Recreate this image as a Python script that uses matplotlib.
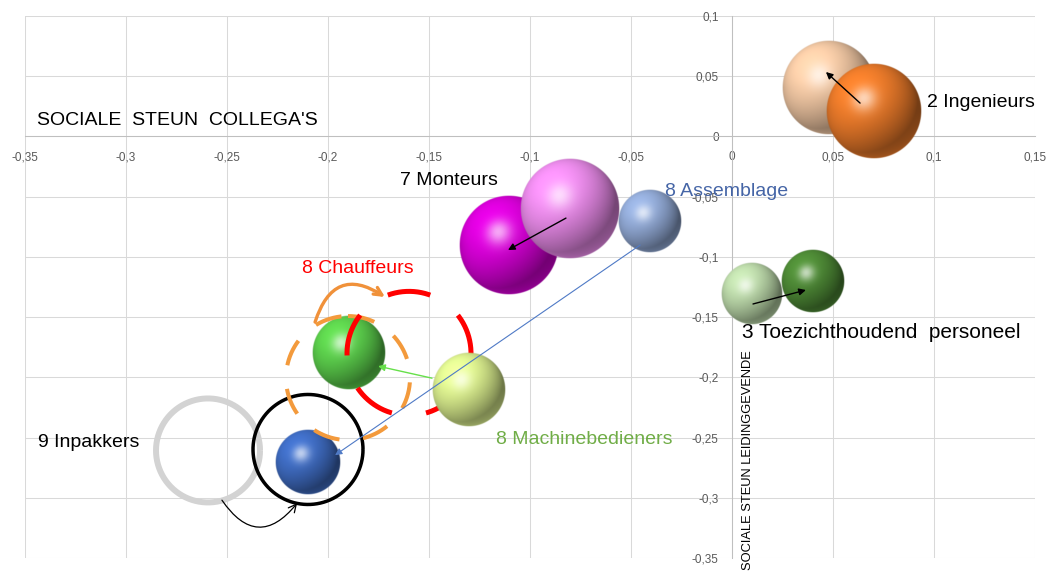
import numpy as np
import matplotlib
matplotlib.use("Agg")
import matplotlib.pyplot as plt
from matplotlib.colors import to_rgb
from matplotlib.transforms import ScaledTranslation

plt.rcParams["font.family"] = ["Liberation Sans", "DejaVu Sans"]
plt.rcParams["lines.scale_dashes"] = False

# bubbles: (job group, previous/current position)
bubble_names = ["2 Ingenieurs (voor)", "2 Ingenieurs", "7 Monteurs", "7 Monteurs (voor)",
                "8 Assemblage", "8 Chauffeurs", "9 Inpakkers",
                "3 Toezichthoudend (na)", "3 Toezichthoudend", "8 Machinebedieners"]
bubble_x = [0.0480, 0.0703, -0.1104, -0.0802, -0.0406, -0.1896, -0.2099, 0.0401, 0.0099, -0.1302]
bubble_y = [0.0402, 0.0211, -0.0902, -0.0603, -0.0702, -0.1799, -0.2704, -0.1200, -0.1308, -0.2106]
bubble_size = [47, 48, 50, 50, 32, 37, 33, 32, 31, 37]
bubble_colors = ["#f2c8a4", "#ea7a2a", "#d800d8", "#ec8cec", "#92aad6",
                 "#5ccf4c", "#3f6cc2", "#4e8a36", "#bcd9aa", "#dcf08f"]

# open rings
ring_x = [-0.2594, -0.2099, -0.1901, -0.1599]
ring_y = [-0.2607, -0.2599, -0.2006, -0.1801]
ring_size = [52, 55, 62, 62]
ring_colors = ["#d3d3d3", "#000000", "#f39a3c", "#ff0000"]
ring_widths = [4.3, 2.5, 2.9, 3.6]
ring_dashes = [None, None, (19.5, 17.1), (31.2, 24.9)]
ring_start = [0, 0, 90, 110]

# arrows: start -> end
arrow_start = [(0.0634, 0.0277), (-0.0822, -0.0678), (0.0104, -0.1391),
               (-0.1485, -0.2007), (-0.0455, -0.0902), (-0.2064, -0.1541), (-0.2525, -0.3020)]
arrow_end = [(0.0465, 0.0535), (-0.1109, -0.0943), (0.0366, -0.1275),
             (-0.1752, -0.1907), (-0.1965, -0.2646), (-0.1718, -0.1333), (-0.2153, -0.3045)]
arrow_colors = ["black", "black", "black", "#66e04a", "#4f7ac6", "#f0913a", "black"]
arrow_rad = [0, 0, 0, 0, 0, -0.65, 0.67]
arrow_widths = [1.0, 1.0, 1.0, 1.0, 0.8, 2.4, 0.9]

label_texts = ["2 Ingenieurs", "7 Monteurs", "8 Assemblage", "8 Chauffeurs",
               "8 Machinebedieners", "3 Toezichthoudend  personeel", "9 Inpakkers"]
label_x = [0.0965, -0.1644, -0.0332, -0.2129, -0.1168, 0.0050, -0.3436]
label_y = [0.0244, -0.0404, -0.0496, -0.1137, -0.2554, -0.1674, -0.2578]
label_colors = ["black", "black", "#4565a6", "#ff0000", "#70ad47", "black", "black"]
label_sizes = [14, 14, 14, 14, 14, 15, 14]

x_ticks = [-0.35, -0.3, -0.25, -0.2, -0.15, -0.1, -0.05, 0, 0.05, 0.1, 0.15]
y_ticks = [-0.35, -0.3, -0.25, -0.2, -0.15, -0.1, -0.05, 0, 0.05, 0.1]


def fmt(v):
    return f"{round(v, 2):g}".replace(".", ",")


def draw_sphere(ax, x, y, r_px, color, sx, sy, z):
    base = np.array(to_rgb(color))
    n = int(r_px * 4)
    u = np.linspace(-1, 1, n)
    uu, vv = np.meshgrid(u, -u)
    rr = np.sqrt(uu ** 2 + vv ** 2)
    nz = np.sqrt(np.clip(1 - rr ** 2, 0, 1))
    light = np.array([-0.40, 0.50, 0.77])
    light = light / np.linalg.norm(light)
    diff = np.clip(uu * light[0] + vv * light[1] + nz * light[2], 0, 1)
    half = light + np.array([0, 0, 1.0])
    half = half / np.linalg.norm(half)
    spec = np.clip(uu * half[0] + vv * half[1] + nz * half[2], 0, 1) ** 30
    # soft bounce light at the bottom
    bounce = np.clip(-vv, 0, 1) * np.clip(1 - nz, 0, 1) * 0.25
    shade = 0.50 + 0.60 * diff + bounce
    rgb = base[None, None, :] * shade[..., None]
    rgb = rgb + (1 - rgb) * (0.65 * spec[..., None])
    rgb = np.clip(rgb, 0, 1)
    alpha = np.clip((1 - rr) * r_px, 0, 1)
    img = np.dstack([rgb, alpha])
    hx, hy = r_px / sx, r_px / sy
    ax.imshow(img, extent=(x - hx, x + hx, y - hy, y + hy), aspect="auto",
              interpolation="antialiased", zorder=z, origin="upper")


fig = plt.figure(figsize=(10.55, 5.72), dpi=100)
ax = fig.add_axes([25 / 1055, 14 / 572, 1010 / 1055, 542 / 572])
ax.set_xlim(-0.35, 0.15)
ax.set_ylim(-0.35, 0.1)

p0 = ax.transData.transform((0, 0))
p1 = ax.transData.transform((1, 1))
sx, sy = p1[0] - p0[0], p1[1] - p0[1]

ax.set_xticks(x_ticks)
ax.set_yticks(y_ticks)
ax.set_xticklabels([fmt(v) for v in x_ticks])
ax.set_yticklabels([fmt(v) for v in y_ticks])
ax.tick_params(length=0, colors="#595959", labelsize=8.5)
ax.tick_params(axis="x", pad=10.5)
ax.tick_params(axis="y", pad=9.5)
ax.grid(color="#d9d9d9", lw=0.75)
ax.set_axisbelow(True)
for side in ["top", "right"]:
    ax.spines[side].set_visible(False)
for side in ["left", "bottom"]:
    ax.spines[side].set_position(("data", 0))
    ax.spines[side].set_color("#bfbfbf")
    ax.spines[side].set_linewidth(0.75)

# bubbles
zorders = [3.0, 3.1, 3.2, 3.3, 3.4, 3.5, 3.6, 3.7, 3.8, 5.0]
for i in range(len(bubble_x)):
    draw_sphere(ax, bubble_x[i], bubble_y[i], bubble_size[i], bubble_colors[i], sx, sy, zorders[i])

# rings
t_deg = np.linspace(0, -360, 721)
for i in range(len(ring_x)):
    trans = fig.dpi_scale_trans + ScaledTranslation(ring_x[i], ring_y[i], ax.transData)
    r_in = ring_size[i] / fig.dpi
    t = np.radians(t_deg + ring_start[i])
    ls = "-" if ring_dashes[i] is None else (0, ring_dashes[i])
    ax.plot(r_in * np.cos(t), r_in * np.sin(t), transform=trans, color=ring_colors[i],
            lw=ring_widths[i], ls=ls, zorder=4.0 + i * 0.1, solid_capstyle="butt",
            dash_capstyle="butt")

# arrows
for i in range(len(arrow_start)):
    ax.annotate("", xy=arrow_end[i], xytext=arrow_start[i],
                arrowprops=dict(arrowstyle="-|>" if i < 5 else "->", color=arrow_colors[i],
                                lw=arrow_widths[i], mutation_scale=10 if i < 5 else 14,
                                shrinkA=0, shrinkB=0,
                                connectionstyle=f"arc3,rad={arrow_rad[i]}"),
                zorder=6)

for i in range(len(label_texts)):
    ax.text(label_x[i], label_y[i], label_texts[i], color=label_colors[i],
            fontsize=label_sizes[i], ha="left", va="baseline", zorder=7)

ax.text(-0.3441, 0.0095, "SOCIALE  STEUN  COLLEGA'S", fontsize=14, ha="left",
        va="baseline", zorder=7)
ax.text(0.0079, -0.3600, "SOCIALE STEUN LEIDINGGEVENDE", fontsize=9.3, rotation=90,
        ha="center", va="bottom", zorder=7, clip_on=False)

ax.set_xlim(-0.35, 0.15)
ax.set_ylim(-0.35, 0.1)
fig.savefig("out.png", dpi=100)
